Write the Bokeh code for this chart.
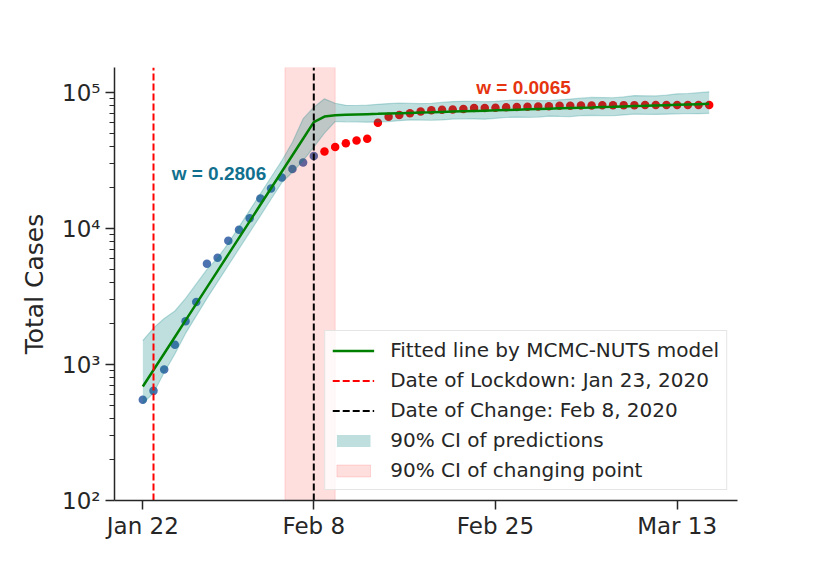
from bokeh.plotting import figure
from bokeh.models import FixedTicker, Legend, LegendItem, Label, Range1d, ColumnDataSource
from bokeh.embed import file_html
from bokeh.resources import INLINE

# ---- data (day index 0 = Jan 22) ----
days = list(range(54))
cases = [550, 640, 920, 1400, 2080, 2880, 5510, 6090, 8140, 9800,
         11900, 16600, 19700, 23700, 27400, 30600, 34100, 36800, 39800, 42400,
         44400, 45800, 59900, 66400, 68400, 70500, 72400, 74200, 74600, 75100,
         75600, 77000, 77000, 77200, 77800, 78200, 78600, 78900, 79400, 79900,
         80100, 80300, 80400, 80500, 80700, 80800, 80800, 80900, 80900, 80900,
         80900, 80900, 81000, 81000]
fit = [689, 911, 1205, 1594, 2109, 2789, 3690, 4881, 6457, 8542,
       11298, 14945, 19770, 26150, 34590, 45760, 60530, 66620, 67990, 68550,
       68930, 69310, 69680, 70070, 70450, 70840, 71230, 71610, 72010, 72410,
       72810, 73210, 73600, 74000, 74410, 74820, 75240, 75640, 76060, 76480,
       76900, 77330, 77740, 78170, 78600, 79040, 79470, 79900, 80350, 80790,
       81240, 81700, 82130, 82590]
ci_upper = [1500, 1855, 2179, 2475, 3060, 3913, 5004, 6082, 7781, 10293,
            13614, 18009, 23823, 31511, 43099, 64201, 78023, 89870, 83420, 80520,
            80280, 80730, 81850, 83000, 83450, 83210, 82960, 83400, 84580, 85770,
            86240, 85990, 85720, 86190, 87400, 87880, 87630, 87350, 87100, 88320,
            89570, 90830, 92080, 91820, 91550, 92840, 94940, 94640, 94380, 95700,
            97860, 98420, 99770, 101170]
ci_lower = [516, 617, 874, 1195, 1693, 2277, 3062, 4051, 5359, 7089,
            9376, 12402, 16407, 21701, 25930, 31537, 39640, 50350, 61220, 60900,
            60710, 60520, 60850, 61190, 62050, 62930, 62740, 62530, 62880, 63780,
            64130, 63930, 63730, 64620, 65540, 65900, 65700, 66050, 66990, 66780,
            66590, 67530, 67880, 67690, 67490, 68450, 69390, 69190, 68990, 69370,
            69750, 70150, 69920, 70310]
lockdown_idx = 1
change_idx = 16
cp_ci_low = 13.3
cp_ci_high = 18.0
w_before = "w = 0.2806"
w_after = "w = 0.0065"
tick_idx = [0, 16, 33, 50]
tick_labels = ["Jan 22", "Feb 8", "Feb 25", "Mar 13"]
y_ticks = [100, 1000, 10000, 100000]
y_tick_labels = ["10\u00b2", "10\u00b3", "10\u2074", "10\u2075"]

X_LO, X_HI = -2.65, 55.65
Y_LO, Y_HI = 100, 152800
INK = "#262626"

p = figure(width=814, height=557, output_backend="svg", toolbar_location=None,
           y_axis_type="log", x_range=Range1d(X_LO, X_HI), y_range=Range1d(Y_LO, Y_HI),
           min_border_left=114, min_border_right=77, min_border_top=67, min_border_bottom=57)
p.outline_line_color = None
p.grid.visible = False
p.background_fill_color = "white"
p.border_fill_color = "white"

n0 = change_idx + 1
src_before = ColumnDataSource(dict(x=days[:n0], y=cases[:n0]))
src_after = ColumnDataSource(dict(x=days[n0:], y=cases[n0:]))
p.scatter("x", "y", source=src_before, size=8.5, fill_color="#4c72b0", line_color=None)
p.scatter("x", "y", source=src_after, size=8.5, fill_color="red", line_color=None)

r_cp = p.quad(left=[cp_ci_low], right=[cp_ci_high], bottom=[Y_LO], top=[Y_HI],
              fill_color="red", fill_alpha=0.13, line_color="red", line_alpha=0.13)
r_band = p.varea(x=days, y1=ci_lower, y2=ci_upper, fill_color="teal", fill_alpha=0.25)
p.line(days, ci_upper, line_color="teal", line_alpha=0.25, line_width=1.2)
p.line(days, ci_lower, line_color="teal", line_alpha=0.25, line_width=1.2)
r_fit = p.line(days, fit, line_color="green", line_width=2.5)
r_lock = p.line([lockdown_idx, lockdown_idx], [Y_LO, Y_HI], line_color="red",
                line_width=2, line_dash="7 3")
r_chg = p.line([change_idx, change_idx], [Y_LO, Y_HI], line_color="black",
               line_width=2, line_dash="7 3")

p.add_layout(Label(x=2.7, y=25500, text=w_before, text_font="Liberation Sans",
                   text_font_style="bold", text_font_size="19px", text_color="#12708f",
                   text_baseline="alphabetic"))
p.add_layout(Label(x=31.2, y=109500, text=w_after, text_font="Liberation Sans",
                   text_font_style="bold", text_font_size="19px", text_color="#e5340f",
                   text_baseline="alphabetic"))

xa = p.xaxis[0]
ya = p.yaxis[0]
xa.ticker = FixedTicker(ticks=tick_idx, minor_ticks=[])
xa.major_label_overrides = dict(zip(tick_idx, tick_labels))
minor_y = [m * t for t in y_ticks[:-1] for m in range(2, 10)]
ya.ticker = FixedTicker(ticks=y_ticks, minor_ticks=minor_y)
ya.major_label_overrides = dict(zip(y_ticks, y_tick_labels))
for ax in (xa, ya):
    ax.axis_line_color = INK
    ax.axis_line_width = 1.5
    ax.major_tick_line_color = INK
    ax.major_tick_line_width = 1.5
    ax.major_tick_out = 9
    ax.major_tick_in = 0
    ax.minor_tick_line_color = INK
    ax.minor_tick_line_width = 1.2
    ax.minor_tick_out = 5
    ax.minor_tick_in = 0
    ax.major_label_text_font = "DejaVu Sans"
    ax.major_label_text_font_size = "23px"
    ax.major_label_text_color = INK
xa.major_label_standoff = 3
ya.major_label_standoff = 5
ya.axis_label = "Total Cases"
ya.axis_label_text_font = "DejaVu Sans"
ya.axis_label_text_font_size = "25px"
ya.axis_label_text_font_style = "normal"
ya.axis_label_text_color = INK
ya.axis_label_standoff = 10

legend = Legend(items=[
    LegendItem(label="Fitted line by MCMC-NUTS model", renderers=[r_fit]),
    LegendItem(label="Date of Lockdown: Jan 23, 2020", renderers=[r_lock]),
    LegendItem(label="Date of Change: Feb 8, 2020", renderers=[r_chg]),
    LegendItem(label="90% CI of predictions", renderers=[r_band]),
    LegendItem(label="90% CI of changing point", renderers=[r_cp]),
], location="bottom_right")
legend.label_text_font = "DejaVu Sans"
legend.label_text_font_size = "20px"
legend.label_text_color = INK
legend.glyph_width = 42
legend.glyph_height = 15
legend.label_standoff = 16
legend.padding = 7
legend.spacing = 6
legend.margin = 10
legend.border_line_color = "#cccccc"
legend.border_line_width = 1
legend.background_fill_alpha = 0.8
p.add_layout(legend)

open("out.html", "w").write(file_html(p, INLINE))
